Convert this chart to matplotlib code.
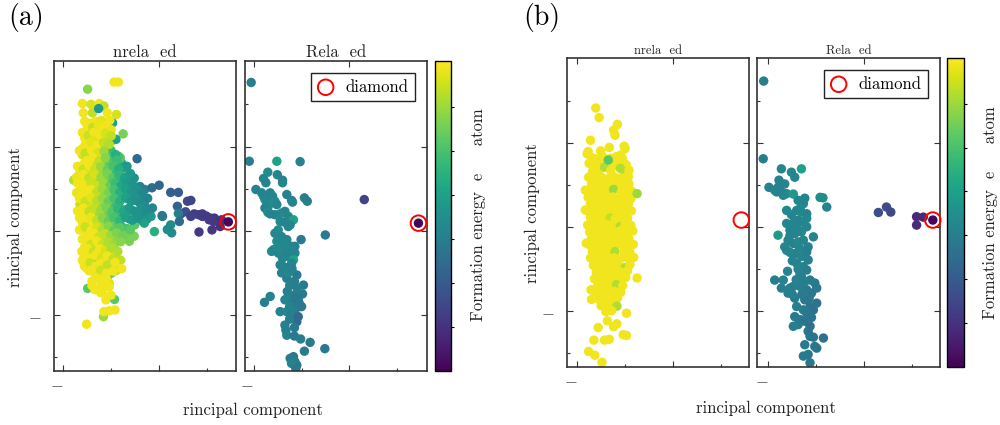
import numpy as np
import matplotlib
matplotlib.use("Agg")
import matplotlib.pyplot as plt

plt.rcParams['font.family'] = 'serif'
plt.rcParams['font.serif'] = ['cmr10']
plt.rcParams['mathtext.fontset'] = 'cm'
plt.rcParams['axes.unicode_minus'] = False

# (x = principal component 1, y = principal component 2, formation energy eV/atom)
pts_a_unrel = [
    (-0.94, 3.53, 1.72), (-0.85, 3.53, 1.72), (-1.49, 3.36, 1.45),
    (-1.60, 3.02, 1.72), (-1.42, 3.00, 1.65), (-1.25, 3.02, 1.72), (-1.15, 2.96, 1.60), (-1.58, 2.80, 1.72),
    (-1.39, 2.80, 1.60), (-1.26, 2.90, 0.95), (-1.08, 2.80, 1.72), (-0.89, 2.76, 1.65), (-0.97, 2.56, 1.00),
    (-1.03, 2.62, 1.72), (-0.75, 2.30, 1.40),
    (-1.55, 2.60, 1.72), (-1.45, 2.55, 1.70), (-1.33, 2.60, 1.72), (-1.20, 2.62, 1.68), (-1.10, 2.50, 1.72),
    (-1.50, 2.40, 1.72), (-1.38, 2.38, 1.66), (-1.25, 2.42, 1.72), (-1.13, 2.35, 1.60), (-1.00, 2.40, 1.70),
    (-1.55, 2.20, 1.72), (-1.42, 2.20, 1.72), (-1.30, 2.22, 1.65), (-1.18, 2.18, 1.72), (-1.06, 2.15, 1.62),
    (-0.95, 2.15, 1.55), (-0.90, 2.17, 1.00),
    (-1.60, 1.95, 1.72), (-1.48, 1.97, 1.70), (-1.35, 1.95, 1.72), (-1.22, 1.97, 1.62), (-1.10, 1.93, 1.50),
    (-1.00, 1.90, 1.20), (-1.60, 1.80, 1.66), (-1.47, 1.78, 1.72), (-1.34, 1.80, 1.72), (-1.20, 1.78, 1.55),
    (-1.07, 1.75, 1.30), (-0.96, 1.72, 1.25), (-1.55, 1.62, 1.72), (-1.42, 1.60, 1.68), (-1.28, 1.62, 1.60),
    (-1.15, 1.58, 1.40), (-1.02, 1.55, 1.30), (-0.90, 1.58, 1.15), (-0.78, 1.60, 1.05), (-0.72, 1.50, 1.00),
    (-0.46, 1.71, 0.60), (-0.81, 1.73, 1.30), (-0.85, 1.77, 1.25), (-0.91, 1.81, 1.10), (-0.67, 1.53, 0.95),
    (-0.60, 1.33, 0.90), (-0.52, 1.25, 0.88),
    (-1.78, 1.20, 1.55), (-1.64, 0.98, 1.72), (-1.65, 0.62, 1.60),
    (-1.65, 1.40, 1.72), (-1.52, 1.42, 1.72), (-1.40, 1.40, 1.65), (-1.28, 1.38, 1.55), (-1.15, 1.35, 1.45),
    (-1.02, 1.32, 1.35), (-0.90, 1.35, 1.20), (-0.80, 1.30, 1.00), (-0.68, 1.28, 0.95), (-0.55, 1.20, 0.90),
    (-1.60, 1.22, 1.72), (-1.48, 1.20, 1.70), (-1.35, 1.18, 1.60), (-1.22, 1.20, 1.50), (-1.10, 1.15, 1.40),
    (-0.98, 1.12, 1.25), (-0.86, 1.15, 1.10), (-0.74, 1.12, 1.00), (-0.62, 1.08, 0.95), (-0.50, 1.02, 0.85),
    (-0.40, 1.05, 0.80), (-0.30, 0.98, 0.75),
    (-0.15, 1.02, 0.62), (0.00, 1.08, 0.58), (0.24, 0.91, 0.52), (0.40, 0.91, 0.50),
    (-1.72, 0.90, 1.70), (-1.60, 0.85, 1.72), (-1.48, 0.88, 1.72), (-1.36, 0.82, 1.60), (-1.24, 0.85, 1.50),
    (-1.12, 0.80, 1.45), (-1.00, 0.82, 1.30), (-0.88, 0.78, 1.20), (-0.76, 0.80, 1.05), (-0.64, 0.75, 0.95),
    (-0.52, 0.72, 0.90), (-0.42, 0.68, 0.85), (-0.30, 0.60, 0.85),
    (-1.52, 0.65, 1.72), (-1.40, 0.60, 1.65), (-1.28, 0.62, 1.55), (-1.16, 0.58, 1.45), (-1.04, 0.55, 1.30),
    (-0.92, 0.58, 1.20), (-0.80, 0.52, 1.10), (-0.68, 0.50, 0.95), (-0.56, 0.48, 0.90), (-0.44, 0.45, 0.85),
    (-0.32, 0.42, 0.85), (-0.20, 0.45, 0.80),
    (-1.60, 0.40, 1.72), (-1.48, 0.38, 1.72), (-1.36, 0.42, 1.60), (-1.24, 0.36, 1.50), (-1.12, 0.38, 1.35),
    (-1.00, 0.32, 1.30), (-0.88, 0.35, 1.20), (-0.76, 0.30, 1.05), (-0.62, 0.28, 0.95), (-0.50, 0.30, 0.90),
    (-0.38, 0.25, 0.85), (-0.26, 0.27, 0.88),
    (0.59, 0.70, 0.38), (0.66, 0.72, 0.36), (0.38, 0.58, 0.55), (0.73, 0.40, 0.30), (0.82, 0.38, 0.32),
    (0.90, 0.40, 0.30), (0.98, 0.35, 0.30), (1.07, 0.30, 0.28), (1.15, 0.30, 0.26), (0.55, 0.45, 0.40),
    (0.45, 0.40, 0.42), (0.40, 0.41, 0.75), (0.06, 0.36, 0.75),
    (0.83, -0.03, 0.30), (1.10, 0.02, 0.28), (1.27, 0.10, 0.26), (1.13, 0.22, 0.28), (1.30, 0.26, 0.25),
    (1.04, 0.26, 0.30), (0.90, 0.34, 0.30), (0.66, 0.34, 0.33),
    (0.24, 0.14, 0.85), (0.26, -0.05, 0.85), (0.17, 0.03, 0.85), (0.42, 0.22, 0.60), (0.07, 0.34, 0.70),
    (-0.10, -0.02, 1.10), (-0.52, -0.13, 1.40), (-0.51, 0.14, 1.30), (-0.58, 0.29, 1.10), (-0.31, 0.18, 1.00),
    (-0.17, 0.34, 0.95),
    (-1.60, 0.20, 1.72), (-1.48, 0.15, 1.72), (-1.36, 0.18, 1.72), (-1.24, 0.12, 1.60), (-1.12, 0.15, 1.50),
    (-1.00, 0.10, 1.40), (-0.88, 0.12, 1.30), (-0.76, 0.08, 1.20), (-0.66, 0.05, 1.25),
    (-1.55, -0.02, 1.72), (-1.43, -0.05, 1.72), (-1.31, 0.00, 1.72), (-1.19, -0.04, 1.60), (-1.07, -0.02, 1.50),
    (-0.95, -0.06, 1.40), (-0.82, -0.04, 1.35), (-0.70, -0.10, 1.40),
    (-1.60, -0.20, 1.72), (-1.48, -0.18, 1.72), (-1.36, -0.22, 1.72), (-1.24, -0.20, 1.60), (-1.12, -0.18, 1.55),
    (-1.00, -0.22, 1.50), (-0.88, -0.20, 1.45), (-0.62, -0.25, 1.40),
    (-1.55, -0.38, 1.72), (-1.43, -0.36, 1.72), (-1.30, -0.40, 1.72), (-1.18, -0.38, 1.70), (-1.06, -0.40, 1.60),
    (-0.94, -0.36, 1.50),
    (-1.50, -0.55, 1.72), (-1.38, -0.52, 1.72), (-1.26, -0.56, 1.72), (-1.14, -0.55, 1.60), (-1.02, -0.50, 1.55),
    (-0.90, -0.55, 1.65),
    (-1.60, -0.70, 1.72), (-1.47, -0.72, 1.72), (-1.35, -0.68, 1.50), (-1.22, -0.75, 1.72), (-1.10, -0.72, 1.55),
    (-0.98, -0.78, 1.72), (-0.80, -0.70, 1.60),
    (-1.52, -0.88, 1.72), (-1.40, -0.90, 1.72), (-1.27, -0.85, 1.72), (-1.15, -0.92, 1.72), (-1.03, -0.95, 1.50),
    (-0.90, -0.95, 1.60), (-0.78, -0.90, 1.72),
    (-1.29, -1.09, 1.72), (-1.18, -1.05, 1.72), (-1.08, -1.12, 1.60), (-1.00, -1.01, 1.30),
    (-1.21, -1.25, 1.72), (-1.04, -1.25, 1.65), (-1.49, -1.37, 1.30), (-1.34, -1.40, 1.72), (-1.23, -1.43, 1.72),
    (-1.04, -1.33, 1.72),
    (-1.09, -1.56, 1.72), (-1.11, -1.64, 1.72), (-0.93, -1.63, 1.30),
    (-1.16, -2.04, 1.50), (-1.15, -1.92, 1.72), (-1.04, -1.90, 1.72), (-0.92, -1.88, 1.72), (-1.51, -2.22, 1.72),
    # second pass over the dense column
    (-1.50, 2.52, 1.72), (-1.38, 2.45, 1.60), (-1.26, 2.51, 1.70), (-1.14, 2.44, 1.72),
    (-1.60, 2.33, 1.72), (-1.48, 2.26, 1.62), (-1.36, 2.34, 1.72), (-1.24, 2.27, 1.72), (-1.12, 2.32, 1.65),
    (-1.00, 2.25, 1.60),
    (-1.54, 2.04, 1.72), (-1.42, 2.11, 1.68), (-1.29, 2.03, 1.72), (-1.16, 2.10, 1.60), (-1.04, 2.05, 1.55),
    (-1.66, 1.90, 1.72), (-1.54, 1.84, 1.60), (-1.41, 1.91, 1.72), (-1.28, 1.85, 1.65), (-1.15, 1.89, 1.50),
    (-1.50, 1.67, 1.72), (-1.38, 1.74, 1.72), (-1.25, 1.66, 1.60), (-1.12, 1.73, 1.45), (-0.88, 1.68, 1.20),
    (-1.70, 1.53, 1.72), (-1.58, 1.46, 1.62), (-1.46, 1.54, 1.72), (-1.34, 1.47, 1.62), (-1.22, 1.52, 1.50),
    (-1.08, 1.45, 1.35), (-0.96, 1.53, 1.25), (-0.84, 1.47, 1.10),
    (-1.72, 1.27, 1.70), (-1.58, 1.34, 1.72), (-1.46, 1.26, 1.60), (-1.34, 1.33, 1.65), (-1.21, 1.28, 1.50),
    (-1.08, 1.35, 1.40), (-0.96, 1.26, 1.30), (-0.84, 1.32, 1.15), (-0.72, 1.25, 1.00), (-0.60, 1.36, 0.95),
    (-1.70, 1.13, 1.72), (-1.54, 1.06, 1.72), (-1.42, 1.14, 1.62), (-1.29, 1.07, 1.62), (-1.16, 1.12, 1.50),
    (-1.04, 1.05, 1.35), (-0.92, 1.13, 1.20), (-0.80, 1.06, 1.05), (-0.68, 1.14, 0.95), (-0.56, 1.07, 0.90),
    (-1.54, 0.91, 1.72), (-1.42, 0.98, 1.72), (-1.30, 0.92, 1.60), (-1.18, 0.99, 1.50), (-1.06, 0.90, 1.40),
    (-0.94, 0.97, 1.25), (-0.82, 0.91, 1.10), (-0.70, 0.99, 1.00), (-0.58, 0.92, 0.92), (-0.46, 0.97, 0.88),
    (-0.36, 0.90, 0.82),
    (-1.66, 0.77, 1.72), (-1.54, 0.70, 1.62), (-1.42, 0.78, 1.68), (-1.30, 0.71, 1.58), (-1.18, 0.76, 1.48),
    (-1.06, 0.69, 1.35), (-0.94, 0.77, 1.25), (-0.82, 0.70, 1.12), (-0.70, 0.78, 1.00), (-0.58, 0.71, 0.92),
    (-0.48, 0.76, 0.88), (-0.36, 0.69, 0.85), (-0.24, 0.77, 0.80),
    (-1.70, 0.47, 1.72), (-1.58, 0.54, 1.72), (-1.46, 0.46, 1.60), (-1.34, 0.53, 1.60), (-1.22, 0.48, 1.50),
    (-1.10, 0.55, 1.40), (-0.98, 0.46, 1.28), (-0.86, 0.52, 1.15), (-0.74, 0.47, 1.05), (-0.62, 0.54, 0.95),
    (-0.50, 0.46, 0.90), (-0.38, 0.53, 0.88), (-0.26, 0.48, 0.85), (-0.14, 0.54, 0.82),
    (-1.66, 0.31, 1.72), (-1.54, 0.24, 1.72), (-1.42, 0.32, 1.70), (-1.30, 0.25, 1.60), (-1.18, 0.30, 1.45),
    (-1.06, 0.23, 1.35), (-0.94, 0.31, 1.25), (-0.82, 0.24, 1.15), (-0.70, 0.32, 1.00), (-0.56, 0.25, 0.95),
    (-0.44, 0.30, 0.90),
    (-1.66, 0.02, 1.72), (-1.54, 0.09, 1.62), (-1.42, 0.01, 1.72), (-1.30, 0.08, 1.65), (-1.18, 0.03, 1.55),
    (-1.06, 0.10, 1.45), (-0.94, 0.01, 1.35), (-0.82, 0.07, 1.30), (-0.60, 0.02, 1.30),
    (-1.49, -0.13, 1.72), (-1.37, -0.06, 1.72), (-1.25, -0.14, 1.62), (-1.13, -0.07, 1.60), (-1.01, -0.12, 1.50),
    (-0.89, -0.05, 1.42), (-0.77, -0.13, 1.38),
    (-1.54, -0.26, 1.72), (-1.42, -0.33, 1.62), (-1.30, -0.25, 1.72), (-1.18, -0.32, 1.62), (-1.06, -0.27, 1.55),
    (-0.94, -0.34, 1.50), (-0.80, -0.26, 1.45),
    (-1.61, -0.49, 1.72), (-1.49, -0.42, 1.72), (-1.37, -0.50, 1.62), (-1.24, -0.43, 1.72), (-1.12, -0.48, 1.65),
    (-1.00, -0.41, 1.55), (-0.86, -0.49, 1.55),
    (-1.56, -0.59, 1.72), (-1.44, -0.66, 1.72), (-1.32, -0.58, 1.72), (-1.20, -0.65, 1.65), (-1.08, -0.60, 1.72),
    (-0.96, -0.67, 1.60),
    (-1.56, -0.83, 1.72), (-1.44, -0.76, 1.62), (-1.32, -0.84, 1.72), (-1.20, -0.77, 1.72), (-1.08, -0.82, 1.60),
    (-0.92, -0.75, 1.72),
    (-1.46, -0.95, 1.72), (-1.34, -1.02, 1.72), (-1.22, -0.94, 1.62), (-1.10, -1.01, 1.72), (-0.96, -0.96, 1.72),
    (-1.40, -1.20, 1.72), (-1.28, -1.13, 1.72), (-1.16, -1.21, 1.72), (-1.10, -1.14, 1.72),
    (-1.40, -1.30, 1.72), (-1.16, -1.36, 1.72), (-1.22, -1.47, 1.72), (-1.00, -1.53, 1.72),
    (1.44, 0.21, 0.02),
]

pts_a_rel = [
    (-2.06, 3.52, 0.75), (-2.10, 1.65, 0.75), (-1.52, 1.65, 1.00), (-1.03, 1.64, 0.78), (-1.71, 1.39, 0.85),
    (-1.51, 1.33, 0.80), (-1.80, 1.24, 0.82), (-1.75, 1.14, 0.80), (-1.40, 1.20, 0.78), (-1.40, 1.14, 0.80),
    (-1.96, 0.98, 0.78),
    (-1.84, 0.90, 0.80), (-1.80, 0.82, 0.78), (-1.77, 0.74, 0.82), (-1.73, 0.66, 0.80), (-1.70, 0.58, 0.85),
    (-1.66, 0.90, 0.78), (-1.61, 0.82, 0.80), (-1.56, 0.70, 0.85), (-1.52, 0.62, 0.80), (-1.77, 0.54, 0.78),
    (-1.71, 0.44, 0.85),
    (-1.31, 0.86, 0.78), (-1.21, 0.72, 0.78), (-1.19, 0.68, 0.80), (-0.94, 0.78, 0.75), (-0.88, 0.70, 0.75),
    (0.32, 0.74, 0.35), (-0.50, -0.10, 0.72),
    (-1.42, 0.42, 0.82), (-1.35, 0.46, 0.80), (-1.49, 0.38, 0.85), (-1.28, 0.34, 0.80), (-1.17, 0.26, 1.00),
    (-1.56, 0.38, 0.80), (-1.66, 0.40, 0.78),
    (-1.49, 0.02, 0.85), (-1.56, -0.06, 0.82), (-1.42, -0.14, 0.80), (-1.52, -0.25, 0.85), (-1.45, -0.29, 0.82),
    (-1.31, -0.21, 0.80), (-1.28, 0.10, 0.78), (-1.24, 0.14, 0.80), (-1.29, -0.37, 0.82), (-1.21, -0.37, 0.80),
    (-1.14, -0.37, 0.78), (-1.01, -0.21, 0.72),
    (-1.63, -0.49, 0.85), (-1.59, -0.45, 0.82), (-1.49, -0.53, 0.80), (-1.42, -0.57, 0.82), (-1.35, -0.49, 0.80),
    (-1.28, -0.61, 0.78), (-1.14, -0.53, 0.80), (-1.17, -0.69, 1.00), (-1.21, -0.77, 0.80), (-1.45, -0.81, 0.78),
    (-1.38, -0.85, 0.80), (-1.31, -0.89, 0.78),
    (-1.31, -1.13, 0.75), (-1.10, -1.05, 0.72), (-1.42, -1.00, 0.78), (-1.28, -1.00, 0.80),
    (-1.30, -1.44, 0.75), (-1.28, -1.56, 0.78), (-0.96, -1.29, 0.72), (-0.98, -1.50, 0.72), (-1.14, -1.52, 0.75),
    (-1.07, -1.64, 0.72), (-1.21, -1.64, 0.78), (-1.35, -1.64, 0.80), (-1.08, -1.80, 0.70), (-1.03, -1.80, 0.72),
    (-1.14, -1.88, 0.75), (-1.00, -1.80, 0.72),
    (-1.78, -1.70, 0.75), (-1.66, -1.56, 0.78), (-1.45, -1.92, 0.78), (-1.31, -1.92, 0.80), (-1.21, -1.96, 0.75),
    (-1.07, -2.04, 0.60), (-1.10, -2.16, 0.60),
    (-1.35, -2.24, 0.78), (-1.33, -2.36, 0.75), (-1.31, -2.48, 0.78), (-1.15, -2.50, 0.72), (-1.02, -2.57, 0.75),
    (-0.82, -2.65, 0.72), (-0.94, -2.86, 0.72), (-0.51, -2.80, 0.72),
    (-1.24, -3.03, 0.75), (-1.17, -2.99, 0.72), (-1.14, -3.11, 0.75), (-1.10, -3.19, 0.72), (-1.21, -3.15, 0.78),
    (-1.12, -3.27, 0.72),
    (-1.45, 0.22, 0.82), (-1.35, 0.20, 0.80), (-1.50, -0.40, 0.85), (-1.38, -0.30, 0.82), (-1.25, -0.45, 0.80),
    (-1.40, -0.65, 0.80), (-1.20, -0.90, 0.78), (-1.15, -1.20, 0.75), (-1.25, -1.30, 0.78), (-1.10, -1.35, 0.75),
    (-1.18, -1.70, 0.72), (-1.12, -1.60, 0.70), (-1.05, -1.72, 0.72), (-1.25, -1.80, 0.78), (-1.15, -2.30, 0.72),
    (-1.25, -2.10, 0.75),
    (1.46, 0.18, 0.02),
]

pts_b_unrel = [
    (-1.61, 2.84, 1.72), (-1.54, 2.61, 1.72), (-1.16, 2.45, 1.72), (-1.24, 2.31, 1.72), (-1.21, 2.19, 1.72),
    (-1.72, 2.07, 1.72), (-1.02, 1.93, 1.72), (-1.00, 1.87, 1.72), (-1.79, 1.75, 1.72), (-1.77, 1.80, 1.72),
    (-1.33, 1.90, 1.72), (-1.51, 1.82, 1.72), (-1.09, 1.72, 1.72), (-1.10, 1.48, 1.72),
    (-0.93, 1.21, 1.72), (-1.83, 0.88, 1.72), (-1.83, 0.41, 1.72), (-1.81, -0.38, 1.72), (-1.72, -0.73, 1.72),
    (-0.82, -0.72, 1.72), (-0.75, -1.21, 1.72), (-1.71, -1.49, 1.72), (-1.70, -1.72, 1.72), (-0.97, -2.05, 1.72),
    (-1.56, -2.39, 1.72), (-1.65, -2.69, 1.72), (-1.43, -2.69, 1.72), (-1.33, -2.67, 1.72), (-1.76, -2.96, 1.72),
    (-1.63, -3.05, 1.72), (-1.48, -3.22, 1.72), (-1.04, -2.56, 1.72), (-0.97, -2.58, 1.72), (-1.17, -2.30, 1.72),
    (-1.24, -2.37, 1.72), (-1.37, -2.23, 1.72),
    (-1.70, 1.66, 1.72), (-1.58, 1.63, 1.72), (-1.46, 1.67, 1.72), (-1.30, 1.64, 1.72), (-1.18, 1.68, 1.72),
    (-1.05, 1.62, 1.72),
    (-1.75, 1.52, 1.72), (-1.62, 1.48, 1.72), (-1.50, 1.51, 1.72), (-1.24, 1.47, 1.72), (-1.12, 1.53, 1.72),
    (-0.98, 1.49, 1.72),
    (-1.68, 1.33, 1.72), (-1.55, 1.37, 1.72), (-1.43, 1.43, 1.55), (-1.30, 1.35, 1.72), (-1.10, 1.40, 1.55),
    (-1.00, 1.32, 1.55), (-0.92, 1.36, 1.72),
    (-1.76, 1.19, 1.72), (-1.63, 1.16, 1.72), (-1.50, 1.20, 1.72), (-1.37, 1.15, 1.72), (-1.24, 1.21, 1.72),
    (-1.11, 1.17, 1.72), (-0.98, 1.20, 1.72),
    (-1.70, 1.03, 1.72), (-1.57, 1.00, 1.72), (-1.44, 1.05, 1.72), (-1.31, 0.99, 1.72), (-1.18, 1.04, 1.72),
    (-1.05, 1.01, 1.72), (-0.92, 1.03, 1.72),
    (-1.74, 0.84, 1.72), (-1.61, 0.88, 1.72), (-1.48, 0.85, 1.72), (-1.35, 0.87, 1.72), (-1.24, 0.90, 1.50),
    (-1.08, 0.84, 1.72), (-0.95, 0.88, 1.72), (-0.86, 0.85, 1.72),
    (-1.77, 0.71, 1.72), (-1.64, 0.68, 1.72), (-1.51, 0.72, 1.72), (-1.38, 0.69, 1.72), (-1.25, 0.72, 1.72),
    (-1.12, 0.67, 1.72), (-0.99, 0.71, 1.72), (-0.88, 0.68, 1.72),
    (-1.72, 0.55, 1.72), (-1.59, 0.52, 1.72), (-1.46, 0.56, 1.72), (-1.33, 0.53, 1.72), (-1.20, 0.55, 1.72),
    (-1.06, 0.52, 1.72), (-0.93, 0.56, 1.72),
    (-1.76, 0.37, 1.72), (-1.63, 0.40, 1.72), (-1.50, 0.36, 1.72), (-1.37, 0.39, 1.72), (-1.24, 0.37, 1.72),
    (-1.11, 0.40, 1.72), (-0.98, 0.36, 1.72), (-0.87, 0.39, 1.72),
    (-1.72, 0.23, 1.72), (-1.60, 0.20, 1.72), (-1.47, 0.24, 1.72), (-1.31, 0.22, 1.60), (-1.21, 0.20, 1.72),
    (-1.08, 0.23, 1.72), (-0.95, 0.21, 1.72),
    (-1.78, 0.05, 1.72), (-1.65, 0.08, 1.72), (-1.52, 0.04, 1.72), (-1.39, 0.07, 1.72), (-1.26, 0.05, 1.72),
    (-1.10, 0.02, 1.55), (-1.00, 0.07, 1.72), (-0.88, 0.04, 1.72),
    (-1.74, -0.11, 1.72), (-1.61, -0.08, 1.72), (-1.48, -0.12, 1.72), (-1.35, -0.09, 1.72), (-1.22, -0.11, 1.72),
    (-1.09, -0.08, 1.72), (-0.96, -0.12, 1.72), (-0.84, -0.09, 1.72),
    (-1.70, -0.27, 1.72), (-1.57, -0.24, 1.72), (-1.44, -0.28, 1.72), (-1.31, -0.25, 1.72), (-1.18, -0.27, 1.72),
    (-1.05, -0.24, 1.72), (-0.92, -0.28, 1.72),
    (-1.73, -0.43, 1.72), (-1.60, -0.40, 1.72), (-1.47, -0.44, 1.72), (-1.34, -0.41, 1.72), (-1.21, -0.43, 1.72),
    (-1.08, -0.40, 1.72), (-0.95, -0.44, 1.72), (-0.83, -0.41, 1.72),
    (-1.68, -0.59, 1.72), (-1.55, -0.56, 1.72), (-1.42, -0.60, 1.72), (-1.29, -0.57, 1.72), (-1.21, -0.58, 1.55),
    (-1.03, -0.56, 1.72), (-0.90, -0.60, 1.72),
    (-1.62, -0.75, 1.72), (-1.49, -0.72, 1.72), (-1.36, -0.76, 1.72), (-1.23, -0.73, 1.72), (-1.10, -0.75, 1.72),
    (-0.97, -0.72, 1.72),
    (-1.66, -0.91, 1.72), (-1.53, -0.88, 1.72), (-1.40, -0.92, 1.72), (-1.27, -0.89, 1.72), (-1.14, -0.91, 1.72),
    (-1.00, -0.96, 1.55), (-0.90, -0.89, 1.72),
    (-1.60, -1.07, 1.72), (-1.47, -1.04, 1.72), (-1.34, -1.08, 1.72), (-1.21, -1.05, 1.72), (-1.08, -1.07, 1.72),
    (-0.95, -1.04, 1.72),
    (-1.64, -1.23, 1.72), (-1.51, -1.20, 1.72), (-1.38, -1.24, 1.72), (-1.25, -1.21, 1.72), (-1.12, -1.23, 1.72),
    (-0.99, -1.20, 1.72),
    (-1.57, -1.39, 1.72), (-1.44, -1.36, 1.72), (-1.31, -1.40, 1.72), (-1.18, -1.37, 1.55), (-1.05, -1.39, 1.72),
    (-1.62, -1.55, 1.72), (-1.48, -1.52, 1.72), (-1.35, -1.56, 1.72), (-1.22, -1.53, 1.72), (-1.09, -1.55, 1.72),
    (-1.55, -1.71, 1.72), (-1.42, -1.68, 1.72), (-1.29, -1.72, 1.72), (-1.16, -1.69, 1.72),
    (-1.50, -1.87, 1.72), (-1.36, -1.84, 1.72), (-1.24, -1.88, 1.72), (-1.17, -1.88, 1.55),
    (-1.40, -2.01, 1.72), (-1.28, -1.99, 1.72),
    (-1.35, 1.60, 1.30), (-0.75, 0.80, 1.50),
]

pts_b_rel = [
    (-2.10, 3.48, 0.75), (-2.11, 1.63, 0.75), (-1.73, 1.39, 0.80), (-1.31, 1.39, 1.00), (-1.52, 1.31, 0.82),
    (-1.45, 1.19, 0.80), (-1.78, 1.12, 0.78), (-1.66, 1.03, 0.80), (-1.99, 0.95, 0.78),
    (-1.87, 0.88, 0.78), (-1.83, 0.84, 0.80), (-1.73, 0.84, 0.75), (-1.69, 0.76, 0.80), (-1.62, 0.80, 0.82),
    (-1.80, 0.95, 0.78),
    (-1.48, 0.79, 0.95), (-1.24, 0.69, 0.78), (-0.92, 0.71, 0.85), (-0.86, 0.70, 0.85), (-0.78, 0.48, 0.80),
    (-1.38, 0.64, 0.82), (-1.27, 0.56, 0.80), (-1.34, 0.44, 0.85), (-1.41, 0.40, 0.80), (-1.31, 0.36, 0.82),
    (-1.20, 0.32, 0.78),
    (0.30, 0.35, 0.40), (0.47, 0.48, 0.40), (0.56, 0.36, 0.38), (1.10, 0.25, 0.20), (1.24, 0.24, 0.20),
    (1.10, 0.05, 0.22),
    (-1.62, 0.09, 0.80), (-1.48, 0.10, 0.82), (-1.38, 0.17, 0.78), (-1.27, 0.13, 0.80), (-1.20, 0.21, 0.82),
    (-1.55, -0.07, 0.80), (-1.45, -0.15, 0.78), (-1.31, -0.11, 0.82), (-1.20, 0.01, 0.80), (-1.80, -0.19, 0.95),
    (-1.59, -0.31, 0.80), (-1.48, -0.39, 0.78), (-1.38, -0.35, 0.82), (-1.27, -0.31, 0.80), (-1.17, -0.47, 0.78),
    (-1.06, -0.23, 0.80), (-1.66, -0.47, 0.82), (-1.62, -0.55, 0.80), (-1.45, -0.63, 0.78), (-1.31, -0.70, 0.80),
    (-1.20, -0.59, 0.75), (-1.17, -0.78, 0.78), (-1.41, -0.86, 0.80), (-1.27, -0.94, 0.78), (-1.20, -1.02, 0.75),
    (-1.34, -1.10, 0.78), (-1.31, -1.18, 0.75), (-1.13, -1.26, 0.72), (-1.03, -1.33, 0.72), (-0.99, -1.45, 0.70),
    (-1.10, -1.57, 0.70), (-1.20, -1.49, 0.72), (-1.34, -1.41, 0.75), (-1.48, -1.41, 0.78), (-1.55, -1.45, 0.75),
    (-1.73, -1.45, 0.75), (-1.69, -1.26, 0.78), (-1.87, -1.26, 0.75), (-1.59, -1.57, 0.75), (-1.45, -1.69, 0.72),
    (-1.24, -1.73, 0.70), (-1.13, -1.89, 0.68), (-1.06, -1.97, 0.65), (-0.99, -1.81, 0.68), (-1.27, -1.97, 0.72),
    (-1.41, -1.89, 0.75), (-1.45, -2.13, 0.72), (-1.34, -2.20, 0.70), (-1.24, -2.24, 0.68), (-1.13, -2.36, 0.65),
    (-1.38, -2.32, 0.72), (-1.48, -2.36, 0.75), (-1.17, -2.48, 0.68), (-1.13, -2.60, 0.70), (-1.06, -2.62, 0.68),
    (-0.85, -2.64, 0.65), (-1.03, -2.84, 0.70), (-1.24, -2.80, 0.72), (-1.17, -3.03, 0.70), (-1.27, -3.07, 0.72),
    (-1.13, -3.23, 0.70), (-0.99, -2.88, 0.68),
    (-1.52, 0.30, 0.80), (-1.62, 0.40, 0.82), (-1.40, 0.00, 0.80), (-1.55, -0.20, 0.78), (-1.35, -0.50, 0.80),
    (-1.50, -0.80, 0.78), (-1.38, -1.00, 0.78), (-1.60, -1.05, 0.80), (-1.25, -1.30, 0.75), (-1.42, -1.25, 0.78),
    (-1.15, -1.70, 0.70), (-1.30, -1.60, 0.72), (-1.20, -2.05, 0.70), (-1.10, -2.15, 0.68), (-1.55, -0.60, 0.80),
    (-1.50, -1.60, 0.75),
    (1.44, 0.17, 0.02),
]

diamond_pos = [(1.44, 0.21), (1.46, 0.18), (1.42, 0.17), (1.44, 0.17)]
titles = ['nrela  ed', 'Rela  ed', 'nrela  ed', 'Rela  ed']

fig = plt.figure(figsize=(10, 4.25), dpi=100)

W, H = 1000.0, 425.0
def box(l, t, r, b):
    return [l / W, 1 - b / H, (r - l) / W, (b - t) / H]

axes = [
    fig.add_axes(box(54, 61, 236, 371)),
    fig.add_axes(box(245, 61, 427, 371)),
    fig.add_axes(box(567, 58, 749, 367)),
    fig.add_axes(box(757, 58, 940, 367)),
]
caxes = [fig.add_axes(box(435, 61, 451, 371)), fig.add_axes(box(947, 58, 964, 367))]

data = [pts_a_unrel, pts_a_rel, pts_b_unrel, pts_b_rel]
xlims = [(-2.19, 1.60), (-2.19, 1.64), (-2.21, 1.58), (-2.24, 1.59)]
vmin, vmax = 0.0, 1.76
scs = []
for i, ax in enumerate(axes):
    arr = np.array(data[i])
    sc = ax.scatter(arr[:, 0], arr[:, 1], c=arr[:, 2], cmap='viridis', vmin=vmin, vmax=vmax,
                    s=46, linewidths=0, zorder=2)
    scs.append(sc)
    dx, dy = diamond_pos[i]
    ax.scatter([dx], [dy], s=125, facecolors='none', edgecolors='red', linewidths=1.4,
               label='diamond', zorder=3, clip_on=False)
    ax.set_xlim(*xlims[i])
    ax.set_ylim(-3.33, 4.03)
    ax.set_xticks([-2, 0])
    ax.set_xticklabels(['$-$', ''], ha='right')
    ax.set_xticks([-1, 1], minor=True)
    ax.set_yticks([-2, 0, 2])
    ax.set_yticks([-3, -1, 1, 3], minor=True)
    if i in (0, 2):
        ax.set_yticklabels(['$-$', '', ''])
    else:
        ax.set_yticklabels(['', '', ''])
    ax.tick_params(which='both', direction='in', top=True, right=True, width=0.8, labelsize=12, colors='#333333')
    ax.tick_params(which='major', length=4)
    ax.tick_params(which='minor', length=2.5, top=False, right=False)
    ax.tick_params(axis='y', pad=9)
    ax.tick_params(axis='x', pad=4)
    for sp in ax.spines.values():
        sp.set_linewidth(1.2)
        sp.set_color('#333333')
    fs = 12 if i < 2 else 9
    ax.set_title(titles[i], fontsize=fs, pad=3, color='#222222')
    if i in (1, 3):
        leg = ax.legend(loc='upper right', fancybox=False, edgecolor='#222222', framealpha=1,
                        fontsize=12, handlelength=1.0, handletextpad=0.7, borderpad=0.4,
                        borderaxespad=0.7)
        leg.get_frame().set_linewidth(1.0)

for k, cax in enumerate(caxes):
    cb = fig.colorbar(scs[2 * k + 1], cax=cax)
    cb.outline.set_linewidth(1.0)
    cb.set_ticks([0.25, 0.5, 0.75, 1.0, 1.25, 1.5])
    cb.set_ticklabels([''] * 6)
    cax.tick_params(length=2.5, width=0.8, direction='out')

# labels
fig.text(8 / W, 1 - 3 / H, '(a)', fontsize=20, va='top', ha='left')
fig.text(523 / W, 1 - 3 / H, '(b)', fontsize=20, va='top', ha='left')
ylab = 'rincipal component'
xlab = 'rincipal component'
fig.text(15 / W, 1 - 217 / H, ylab, rotation=90, fontsize=12, ha='center', va='center', color='#222222')
fig.text(532 / W, 1 - 213 / H, ylab, rotation=90, fontsize=12, ha='center', va='center', color='#222222')
fig.text(253 / W, 1 - 410 / H, xlab, fontsize=12, ha='center', va='center', color='#222222')
fig.text(766 / W, 1 - 408 / H, xlab, fontsize=12, ha='center', va='center', color='#222222')
cblab = 'Formation energy  e     atom'
fig.text(478 / W, 1 - 215 / H, cblab, rotation=90, fontsize=12, ha='center', va='center', color='#222222')
fig.text(990 / W, 1 - 213 / H, cblab, rotation=90, fontsize=12, ha='center', va='center', color='#222222')

fig.savefig('out.png', dpi=100)
